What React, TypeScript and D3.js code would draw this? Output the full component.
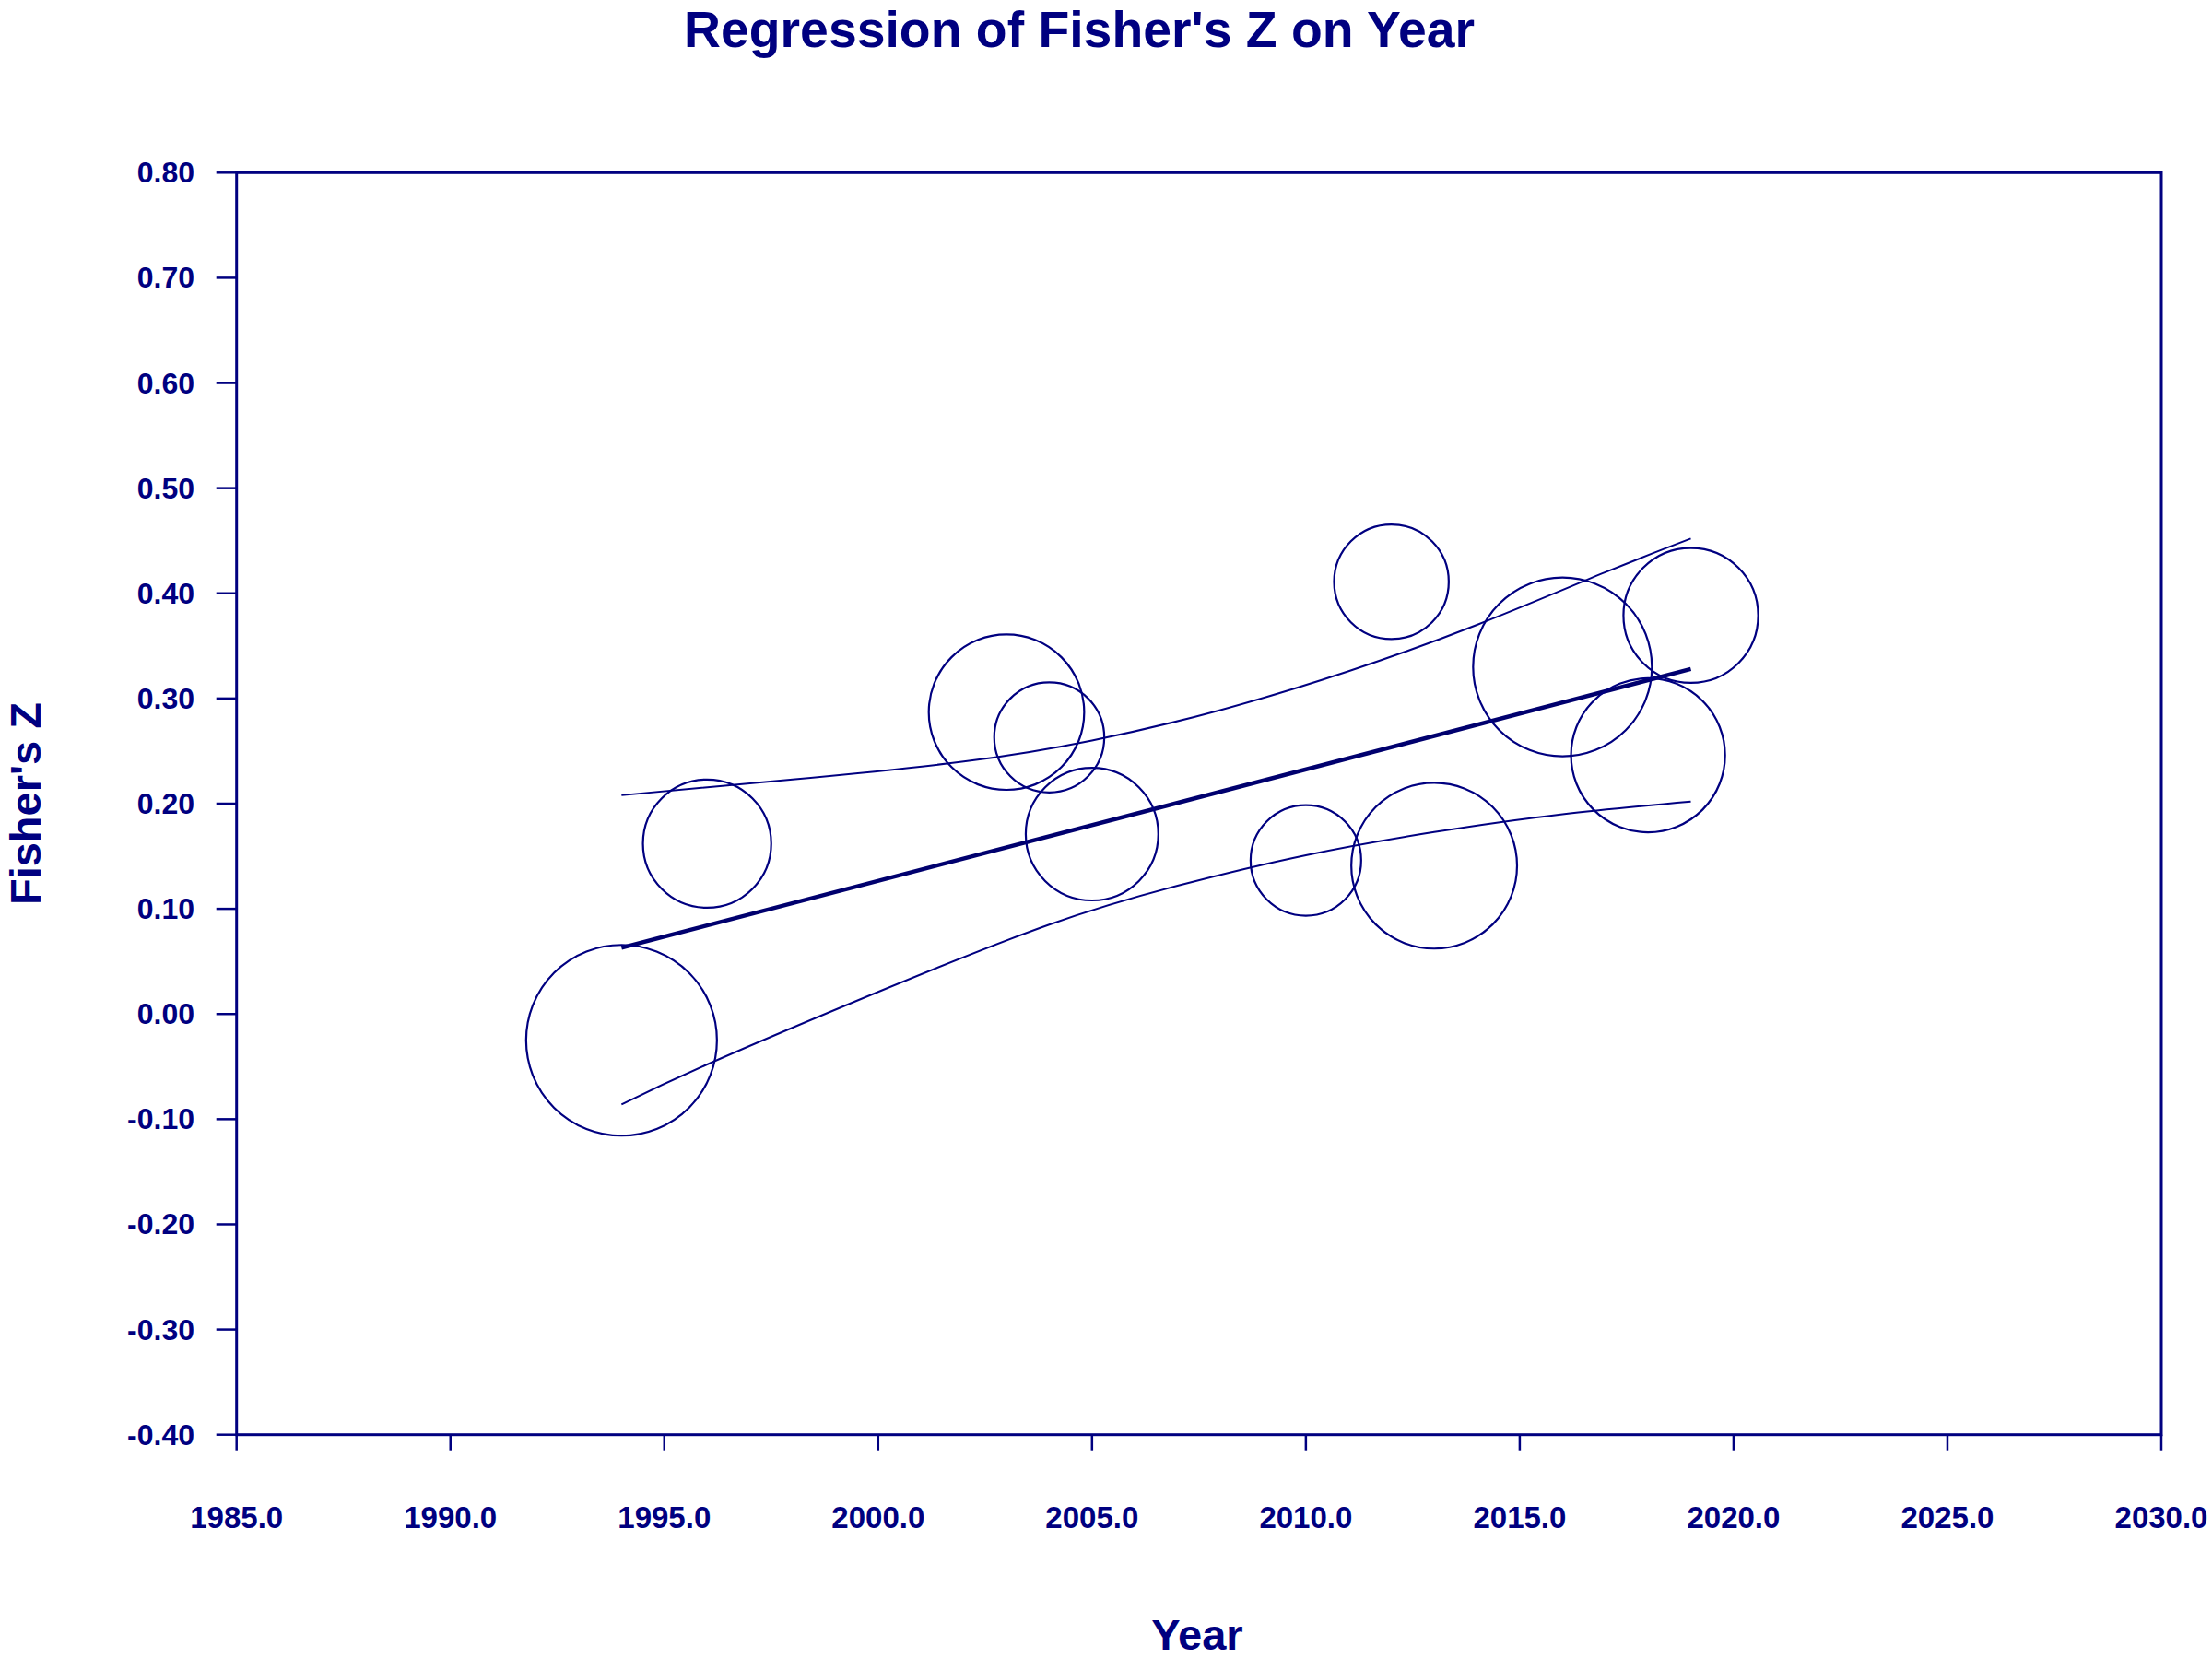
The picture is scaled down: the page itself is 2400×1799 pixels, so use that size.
import React from "react";
import * as d3 from "d3";

// study points: year, Fisher's Z, relative weight (%)
const studyYears = [1994, 1996, 2003, 2004, 2005, 2010, 2012, 2013, 2016, 2018, 2019];
const studyZ = [-0.025, 0.162, 0.287, 0.263, 0.171, 0.146, 0.411, 0.141, 0.330, 0.246, 0.379];
const studyWeights = [15.6, 7.05, 10.35, 5.19, 7.53, 5.24, 5.63, 11.77, 13.7, 10.17, 7.78];

// fitted regression line endpoints
const fitYears = [1994, 2019];
const fitZ = [0.063, 0.328];

// confidence limits
const upperBand: [number, number][] = [
  [1994, 0.208], [1998, 0.223], [2002, 0.24], [2005, 0.26], [2008, 0.289],
  [2011, 0.326], [2014, 0.37], [2017, 0.42], [2019, 0.452],
];
const lowerBand: [number, number][] = [
  [1994, -0.086], [1996, -0.048], [2000, 0.021], [2004, 0.085], [2007, 0.122],
  [2010, 0.151], [2013, 0.173], [2016, 0.19], [2019, 0.202],
];

const xTicks = [1985, 1990, 1995, 2000, 2005, 2010, 2015, 2020, 2025, 2030];
const yTicks = [0.8, 0.7, 0.6, 0.5, 0.4, 0.3, 0.2, 0.1, 0.0, -0.1, -0.2, -0.3, -0.4];

const W = 2400;
const H = 1799;
const NAVY = "#000080";
const FONT = "'Liberation Sans', Arial, sans-serif";

const App: React.FC = () => {
  const left = 256.7;
  const right = 2345;
  const top = 187.3;
  const bottom = 1556.7;

  const x = d3.scaleLinear().domain([1985, 2030]).range([left, right]);
  const y = d3.scaleLinear().domain([-0.4, 0.8]).range([bottom, top]);
  const r = d3.scaleSqrt().domain([0, 15.6]).range([0, 103.5]);

  const band = d3
    .line<[number, number]>()
    .x((d) => x(d[0]))
    .y((d) => y(d[1]))
    .curve(d3.curveNatural);

  return (
    <svg
      width={W}
      height={H}
      style={{ position: "absolute", left: 0, top: 0, background: "#fff" }}
      fontFamily={FONT}
      fontWeight="bold"
      fill={NAVY}
    >
      <text x={1171} y={51} fontSize={55} textAnchor="middle" textLength={858} lengthAdjust="spacingAndGlyphs">
        Regression of Fisher's Z on Year
      </text>

      {/* frame */}
      <rect x={left} y={top} width={right - left} height={bottom - top} fill="none" stroke={NAVY} strokeWidth={3} />

      {/* y axis ticks */}
      {yTicks.map((t) => (
        <g key={"y" + t}>
          <line x1={left - 22} x2={left} y1={y(t)} y2={y(t)} stroke={NAVY} strokeWidth={2.5} />
          <text x={211} y={y(t) + 11} fontSize={32} textAnchor="end">
            {t.toFixed(2)}
          </text>
        </g>
      ))}

      {/* x axis ticks */}
      {xTicks.map((t) => (
        <g key={"x" + t}>
          <line x1={x(t)} x2={x(t)} y1={bottom} y2={bottom + 17} stroke={NAVY} strokeWidth={2.5} />
          <text x={x(t)} y={1658} fontSize={33} textAnchor="middle">
            {t.toFixed(1)}
          </text>
        </g>
      ))}

      <text x={1299} y={1790} fontSize={47} textAnchor="middle">
        Year
      </text>
      <text
        transform="translate(44,872) rotate(-90)"
        fontSize={47}
        textAnchor="middle"
        textLength={220}
        lengthAdjust="spacingAndGlyphs"
      >
        Fisher's Z
      </text>

      {/* confidence limits */}
      <path d={band(upperBand) || ""} fill="none" stroke={NAVY} strokeWidth={2} />
      <path d={band(lowerBand) || ""} fill="none" stroke={NAVY} strokeWidth={2} />

      {/* regression line */}
      <line
        x1={x(fitYears[0])}
        y1={y(fitZ[0])}
        x2={x(fitYears[1])}
        y2={y(fitZ[1])}
        stroke="#00006e"
        strokeWidth={4.5}
      />

      {/* study bubbles */}
      {studyYears.map((yr, i) => (
        <circle
          key={"c" + i}
          cx={x(yr)}
          cy={y(studyZ[i])}
          r={r(studyWeights[i])}
          fill="none"
          stroke={NAVY}
          strokeWidth={2.2}
        />
      ))}
    </svg>
  );
};

export default App;
